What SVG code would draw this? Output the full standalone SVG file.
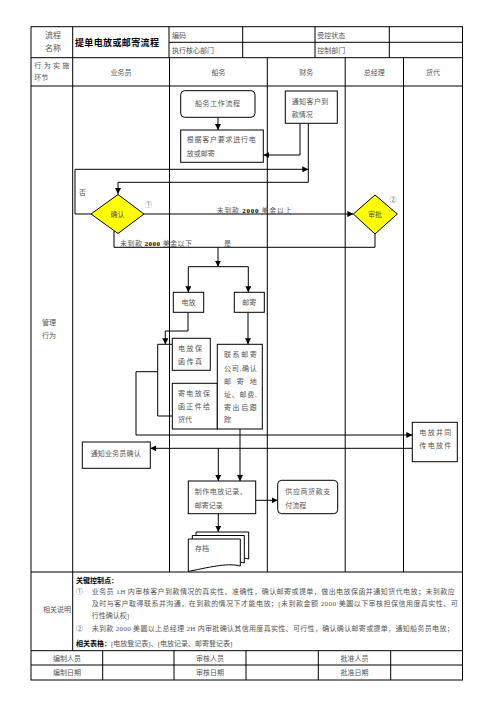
<svg xmlns="http://www.w3.org/2000/svg" width="496" height="702" viewBox="0 0 496 702">
<defs>
<marker id="ah" markerUnits="userSpaceOnUse" markerWidth="6" markerHeight="6" refX="6" refY="3" orient="auto">
<path d="M0,0 L6,3 L0,6 z" fill="#000"/>
</marker>
<style>
text{font-family:"Liberation Serif","Noto Sans CJK SC",serif;font-size:7px;fill:#555}
.b{font-weight:bold;fill:#000}
.t{stroke:#000;stroke-width:1;fill:none}
.bx{stroke:#000;stroke-width:1;fill:#fff}
.dm{stroke:#000;stroke-width:1;fill:#ffff00}
.c{stroke:#000;stroke-width:1;fill:none}
.ca{stroke:#000;stroke-width:1;fill:none;marker-end:url(#ah)}
.m{text-anchor:middle}
</style>
</defs>
<rect width="496" height="702" fill="#fff"/>

<g id="table">
<rect class="t" x="31" y="26.7" width="431.5" height="653.3"/>
<line class="t" x1="31" y1="57.7" x2="462.5" y2="57.7"/>
<line class="t" x1="169" y1="42.3" x2="462.5" y2="42.3"/>
<line class="t" x1="31" y1="86" x2="462.5" y2="86"/>
<line class="t" x1="31" y1="572" x2="462.5" y2="572"/>
<line class="t" x1="31" y1="650.7" x2="462.5" y2="650.7"/>
<line class="t" x1="31" y1="665" x2="462.5" y2="665"/>
<line class="t" x1="72.7" y1="26.7" x2="72.7" y2="650.7"/>
<line class="t" x1="169" y1="26.7" x2="169" y2="57.7"/>
<line class="t" x1="242.7" y1="26.7" x2="242.7" y2="57.7"/>
<line class="t" x1="315" y1="26.7" x2="315" y2="57.7"/>
<line class="t" x1="389.3" y1="26.7" x2="389.3" y2="57.7"/>
<line class="t" x1="169.5" y1="57.7" x2="169.5" y2="572"/>
<line class="t" x1="267.3" y1="57.7" x2="267.3" y2="572"/>
<line class="t" x1="345.2" y1="57.7" x2="345.2" y2="572"/>
<line class="t" x1="403.5" y1="57.7" x2="403.5" y2="572"/>
<line class="t" x1="102.7" y1="650.7" x2="102.7" y2="680"/>
<line class="t" x1="174" y1="650.7" x2="174" y2="680"/>
<line class="t" x1="246" y1="650.7" x2="246" y2="680"/>
<line class="t" x1="318.3" y1="650.7" x2="318.3" y2="680"/>
<line class="t" x1="390.7" y1="650.7" x2="390.7" y2="680"/>

<text x="53" y="38" class="m" style="font-size:8px">流程</text>
<text x="53" y="51" class="m" style="font-size:8px">名称</text>
<text x="75" y="46" class="b" style="font-size:9px" textLength="84" lengthAdjust="spacing">提单电放或邮寄流程</text>
<text x="172" y="37.5">编码</text>
<text x="172" y="52.5">执行核心部门</text>
<text x="317.3" y="37.5">受控状态</text>
<text x="317.3" y="52.5">控制部门</text>
<text x="34.3" y="67.5" textLength="35" lengthAdjust="spacing">行为实施</text>
<text x="34.3" y="80">环节</text>
<text x="121" y="75" class="m">业务员</text>
<text x="218.4" y="75" class="m">船务</text>
<text x="306.2" y="75" class="m">财务</text>
<text x="374.3" y="75" class="m">总经理</text>
<text x="433" y="75" class="m">货代</text>
<text x="42" y="325">管理</text>
<text x="42" y="337.5">行为</text>
<text x="43" y="611.5">相关说明</text>

<text x="76" y="583" class="b">关键控制点：</text>
<text x="76" y="594">①</text>
<text x="91.7" y="594" textLength="363" lengthAdjust="spacing">业务员 1H 内审核客户到款情况的真实性、准确性，确认邮寄或提单，做出电放保函并通知货代电放；未到款应</text>
<text x="91.7" y="605.5" textLength="366" lengthAdjust="spacing">及时与客户取得联系并沟通，在到款的情况下才能电放；[未到款金额 2000 美圆以下审核担保信用度真实性、可</text>
<text x="91.7" y="618">行性确认权]</text>
<text x="76" y="630.5">②</text>
<text x="91.7" y="630.5" textLength="362" lengthAdjust="spacing">未到款 2000 美圆以上总经理 2H 内审批确认其信用度真实性、可行性，确认确认邮寄或提单，通知船务员电放；</text>
<text x="76" y="645.5"><tspan class="b">相关表格：</tspan>[电放登记表]、[电放记录、邮寄登记表]</text>

<text x="67" y="660.5" class="m">编制人员</text>
<text x="67" y="675" class="m">编制日期</text>
<text x="210" y="660.5" class="m">审核人员</text>
<text x="210" y="675" class="m">审核日期</text>
<text x="354.5" y="660.5" class="m">批准人员</text>
<text x="354.5" y="675" class="m">批准日期</text>
</g>

<g id="connectors">
<path class="ca" d="M218,117.3 V130"/>
<path class="ca" d="M300,123.3 V155 H263.3"/>
<path class="ca" d="M308.3,123.3 V182.3 H118 V194"/>
<path class="ca" d="M91,214 H75 V169.3 H308.3"/>
<path class="ca" d="M144,214 H353.3"/>
<path class="c" d="M114,231 V247.3 H375 V234"/>
<path class="ca" d="M218,247.3 V266.7"/>
<path class="c" d="M188.3,266.7 H248.3"/>
<path class="ca" d="M188.3,266.7 V292.3"/>
<path class="ca" d="M248.3,266.7 V292.3"/>
<path class="ca" d="M188,312.3 V331 H165.3 V344.3"/>
<path class="c" d="M172.3,344.3 H157.7 V416 H172.3"/>
<path class="ca" d="M157.7,371.7 H136 V435 H412.3"/>
<path class="ca" d="M248,312.3 V344.3"/>
<path class="ca" d="M412.3,448.3 H150.3"/>
<path class="ca" d="M218.3,448.3 V481"/>
<path class="ca" d="M240,429 V481"/>
<path class="ca" d="M255.7,500.3 H277.7"/>
<path class="ca" d="M218.3,513.7 V532"/>
</g>

<g id="n-shipflow">
<rect class="bx" x="180.7" y="90.7" width="74.3" height="26.6" rx="4"/>
<text x="195" y="105.5" textLength="45" lengthAdjust="spacing">船务工作流程</text>
</g>
<g id="n-notify-customer">
<rect class="bx" x="285.3" y="91" width="52" height="32.3"/>
<text x="291.7" y="103.5" textLength="36.6" lengthAdjust="spacing">通知客户到</text>
<text x="291.7" y="117">款情况</text>
</g>
<g id="n-request">
<rect class="bx" x="180.7" y="130" width="82.6" height="32.3"/>
<text x="186.7" y="142" textLength="69" lengthAdjust="spacing">根据客户要求进行电</text>
<text x="186.7" y="155.5">放或邮寄</text>
</g>
<text x="79" y="194.5">否</text>
<g id="n-confirm">
<path class="dm" d="M118,194.5 L144,214 L118,233.5 L91,214 Z"/>
<text x="117.5" y="216.5" class="m">确认</text>
<text x="145" y="207">①</text>
</g>
<g id="n-approve">
<path class="dm" d="M375,195 L397.3,214 L375,234 L353.3,214 Z"/>
<text x="375" y="216.5" class="m">审批</text>
<text x="389.5" y="202">②</text>
</g>
<text x="216.7" y="213" textLength="75" lengthAdjust="spacing">未到款  <tspan class="b">2000</tspan> 美金以上</text>
<text x="120" y="245.5" textLength="72" lengthAdjust="spacing">未到款  <tspan class="b">2000</tspan> 美金以下</text>
<text x="224" y="245.5">是</text>
<g id="n-telex">
<rect class="bx" x="173.3" y="292.3" width="30.4" height="20"/>
<text x="188.5" y="305" class="m">电放</text>
</g>
<g id="n-mail">
<rect class="bx" x="234.3" y="292.3" width="30" height="20"/>
<text x="249.3" y="305" class="m">邮寄</text>
</g>
<g id="n-fax">
<rect class="bx" x="172.3" y="338.3" width="38" height="32"/>
<text x="178" y="351" textLength="24" lengthAdjust="spacing">电放保</text>
<text x="178" y="363.5" textLength="24" lengthAdjust="spacing">函传真</text>
</g>
<g id="n-original">
<rect class="bx" x="172.3" y="383.3" width="45" height="45.7"/>
<text x="178" y="396" textLength="32" lengthAdjust="spacing">寄电放保</text>
<text x="178" y="408.5" textLength="32" lengthAdjust="spacing">函正件给</text>
<text x="178" y="421.5">货代</text>
</g>
<g id="n-courier">
<rect class="bx" x="217.3" y="344.3" width="45" height="84.7"/>
<text x="224" y="357" textLength="32.7" lengthAdjust="spacing">联系邮寄</text>
<text x="224" y="370.5" textLength="32.7" lengthAdjust="spacing">公司,确认</text>
<text x="224" y="384" textLength="32.7" lengthAdjust="spacing">邮寄地</text>
<text x="224" y="397.3" textLength="32.7" lengthAdjust="spacing">址、邮费,</text>
<text x="224" y="409.7" textLength="32.7" lengthAdjust="spacing">寄出后跟</text>
<text x="224" y="422.3">踪</text>
</g>
<g id="n-forwarder">
<rect class="bx" x="412.3" y="422.3" width="45" height="39.4"/>
<text x="419.3" y="435" textLength="32" lengthAdjust="spacing">电放并同</text>
<text x="419.3" y="447.5" textLength="32" lengthAdjust="spacing">传电放件</text>
</g>
<g id="n-notify-sales">
<rect class="bx" x="82.3" y="442" width="68" height="26.3"/>
<text x="90.7" y="456" textLength="50" lengthAdjust="spacing">通知业务员确认</text>
</g>
<g id="n-record">
<rect class="bx" x="188.3" y="481" width="67.4" height="32.7"/>
<text x="194.7" y="494.3" textLength="52" lengthAdjust="spacing">制作电放记录、</text>
<text x="194.7" y="507.5">邮寄记录</text>
</g>
<g id="n-payment">
<rect class="bx" x="277.7" y="480.3" width="60" height="33.4" rx="4"/>
<text x="285.3" y="494.3" textLength="45" lengthAdjust="spacing">供应商货款支</text>
<text x="285.3" y="507.5">付流程</text>
</g>
<g id="n-archive">
<path class="bx" d="M196,532 H248.7 V559 C238,556 228,560 196,563 Z"/>
<path class="bx" d="M192.3,535.5 H244.3 V563 C234,560 222,564 192.3,567 Z"/>
<path class="bx" d="M188.3,539 H240.3 V566 C229,563 214,566 188.3,571.5 Z"/>
<text x="195" y="551">存档</text>
</g>
</svg>
